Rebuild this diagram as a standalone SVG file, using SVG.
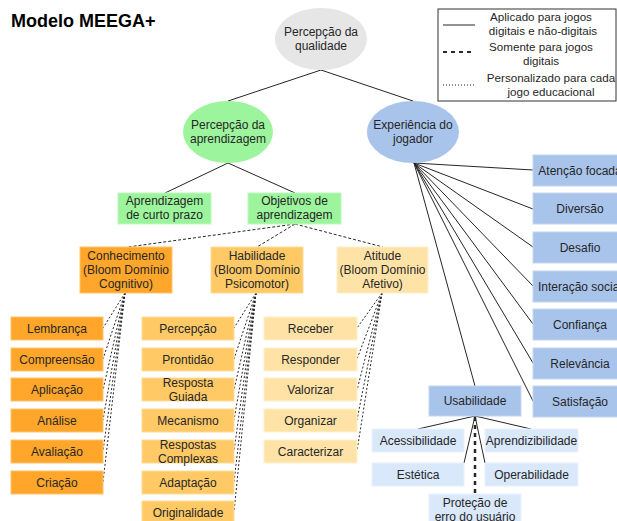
<svg xmlns="http://www.w3.org/2000/svg" width="617" height="521" viewBox="0 0 617 521">
<style>
text{font-family:"Liberation Sans",Arial,sans-serif;font-size:12px;fill:#262626;text-anchor:middle}
.title{font-size:18px;font-weight:bold;text-anchor:start;fill:#000}
.lg{font-size:11.6px}
.solid{stroke:#262626;stroke-width:1;fill:none}
.dot{stroke:#262626;stroke-width:1;fill:none;stroke-dasharray:2 2}
.dash{stroke:#262626;stroke-width:2.5;fill:none;stroke-dasharray:4 4}
.g{fill:#9cf59c;stroke:#bdf8bd}
.o1{fill:#ffa62b;stroke:#ffc46b}
.o2{fill:#ffc966;stroke:#ffdb99}
.o3{fill:#ffe3a6;stroke:#fff0cc}
.b{fill:#a9c4eb;stroke:#c3d6f2}
.lb{fill:#dae8fc;stroke:#eaf2fd}
</style>
<text class="title" x="11" y="27">Modelo MEEGA+</text>

<g id="legend">
<rect x="438" y="9" width="178" height="92" fill="#fff" stroke="#333" stroke-width="1"/>
<line x1="443" y1="25" x2="475" y2="25" class="solid"/>
<line x1="443" y1="52" x2="475" y2="52" stroke="#262626" stroke-width="2" stroke-dasharray="4 4"/>
<line x1="443" y1="85" x2="475" y2="85" stroke="#262626" stroke-width="1" stroke-dasharray="1 2"/>
<text class="lg" x="541" y="21">Aplicado para jogos</text>
<text class="lg" x="543" y="35">digitais e não-digitais</text>
<text class="lg" x="541" y="51">Somente para jogos</text>
<text class="lg" x="541" y="65">digitais</text>
<text class="lg" x="551" y="82">Personalizado para cada</text>
<text class="lg" x="551" y="96">jogo educacional</text>
</g>

<g id="connectors">
<line x1="321" y1="70" x2="228" y2="101" class="solid"/>
<line x1="321" y1="70" x2="413" y2="101" class="solid"/>
<line x1="228" y1="163" x2="165" y2="193" class="solid"/>
<line x1="228" y1="163" x2="295" y2="193" class="solid"/>
<line x1="295" y1="224" x2="128" y2="247" stroke="#262626" stroke-dasharray="3 2"/>
<line x1="295" y1="224" x2="257" y2="247" stroke="#262626" stroke-dasharray="3 2"/>
<line x1="295" y1="224" x2="383" y2="247" stroke="#262626" stroke-dasharray="3 2"/>
<g class="dot">
<path d="M125 293L103 328M125 293L103 359M125 293L103 390M125 293L103 420M125 293L103 451M125 293L103 482"/>
<path d="M256 293L234 328M256 293L234 359M256 293L234 390M256 293L234 420M256 293L234 451M256 293L234 482M256 293L234 512"/>
<path d="M382 293L357 328M382 293L357 359M382 293L357 390M382 293L357 420M382 293L357 451"/>
</g>
<g class="solid">
<path d="M414 163L533 170M414 163L533 209M414 163L533 247M414 163L533 286M414 163L533 324M414 163L533 363M414 163L533 401M414 163L475 386"/>
<path d="M475 416L418 429M475 416L531 429M475 416L464 463M475 416L485 463"/>
</g>
<line x1="475" y1="417" x2="475" y2="494" class="dash"/>
</g>

<g id="n-qualidade"><ellipse cx="321" cy="39" rx="46" ry="31" fill="#e6e6e6"/><text x="321" y="36">Percepção da</text><text x="321" y="50">qualidade</text></g>
<g id="n-aprend"><ellipse cx="228" cy="132" rx="45" ry="31" fill="#9cf59c"/><text x="228" y="129">Percepção da</text><text x="228" y="143">aprendizagem</text></g>
<g id="n-exp"><ellipse cx="413" cy="132" rx="46" ry="31" fill="#a9c4eb"/><text x="413" y="129">Experiência do</text><text x="413" y="143">jogador</text></g>

<g id="n-curto"><rect class="g" x="118" y="193" width="93" height="31"/><text x="164.5" y="205">Aprendizagem</text><text x="164.5" y="219">de curto prazo</text></g>
<g id="n-objetivos"><rect class="g" x="248" y="193" width="93" height="31"/><text x="294.5" y="205">Objetivos de</text><text x="294.5" y="219">aprendizagem</text></g>

<g id="n-conhecimento"><rect class="o1" x="80" y="247" width="92" height="46"/><text x="126" y="260">Conhecimento</text><text x="126" y="274">(Bloom Domínio</text><text x="126" y="288">Cognitivo)</text></g>
<g id="n-habilidade"><rect class="o2" x="211" y="247" width="92" height="46"/><text x="257" y="260">Habilidade</text><text x="257" y="274">(Bloom Domínio</text><text x="257" y="288">Psicomotor)</text></g>
<g id="n-atitude"><rect class="o3" x="337" y="247" width="91" height="46"/><text x="382.5" y="260">Atitude</text><text x="382.5" y="274">(Bloom Domínio</text><text x="382.5" y="288">Afetivo)</text></g>

<g id="n-lembranca"><rect class="o1" x="11" y="317" width="92" height="23"/><text x="57" y="333">Lembrança</text></g>
<g id="n-compreensao"><rect class="o1" x="11" y="348" width="92" height="23"/><text x="57" y="364">Compreensão</text></g>
<g id="n-aplicacao"><rect class="o1" x="11" y="378" width="92" height="23"/><text x="57" y="394">Aplicação</text></g>
<g id="n-analise"><rect class="o1" x="11" y="409" width="92" height="23"/><text x="57" y="425">Análise</text></g>
<g id="n-avaliacao"><rect class="o1" x="11" y="440" width="92" height="23"/><text x="57" y="456">Avaliação</text></g>
<g id="n-criacao"><rect class="o1" x="11" y="471" width="92" height="23"/><text x="57" y="487">Criação</text></g>

<g id="n-percepcao"><rect class="o2" x="142" y="317" width="92" height="23"/><text x="188" y="333">Percepção</text></g>
<g id="n-prontidao"><rect class="o2" x="142" y="348" width="92" height="23"/><text x="188" y="364">Prontidão</text></g>
<g id="n-guiada"><rect class="o2" x="142" y="378" width="92" height="23"/><text x="188" y="387">Resposta</text><text x="188" y="401">Guiada</text></g>
<g id="n-mecanismo"><rect class="o2" x="142" y="409" width="92" height="23"/><text x="188" y="425">Mecanismo</text></g>
<g id="n-complexas"><rect class="o2" x="142" y="440" width="92" height="23"/><text x="188" y="449">Respostas</text><text x="188" y="463">Complexas</text></g>
<g id="n-adaptacao"><rect class="o2" x="142" y="471" width="92" height="23"/><text x="188" y="487">Adaptação</text></g>
<g id="n-originalidade"><rect class="o2" x="142" y="501" width="92" height="23"/><text x="188" y="517">Originalidade</text></g>

<g id="n-receber"><rect class="o3" x="264" y="317" width="93" height="23"/><text x="310.5" y="333">Receber</text></g>
<g id="n-responder"><rect class="o3" x="264" y="348" width="93" height="23"/><text x="310.5" y="364">Responder</text></g>
<g id="n-valorizar"><rect class="o3" x="264" y="378" width="93" height="23"/><text x="310.5" y="394">Valorizar</text></g>
<g id="n-organizar"><rect class="o3" x="264" y="409" width="93" height="23"/><text x="310.5" y="425">Organizar</text></g>
<g id="n-caracterizar"><rect class="o3" x="264" y="440" width="93" height="23"/><text x="310.5" y="456">Caracterizar</text></g>

<g id="n-atencao"><rect class="b" x="533" y="155" width="94" height="31"/><text x="580" y="175">Atenção focada</text></g>
<g id="n-diversao"><rect class="b" x="533" y="193" width="94" height="31"/><text x="580" y="213">Diversão</text></g>
<g id="n-desafio"><rect class="b" x="533" y="232" width="94" height="31"/><text x="580" y="252">Desafio</text></g>
<g id="n-interacao"><rect class="b" x="533" y="271" width="94" height="31"/><text x="580" y="291">Interação social</text></g>
<g id="n-confianca"><rect class="b" x="533" y="309" width="94" height="31"/><text x="580" y="329">Confiança</text></g>
<g id="n-relevancia"><rect class="b" x="533" y="348" width="94" height="31"/><text x="580" y="368">Relevância</text></g>
<g id="n-satisfacao"><rect class="b" x="533" y="386" width="94" height="31"/><text x="580" y="406">Satisfação</text></g>

<g id="n-usabilidade"><rect class="b" x="429" y="386" width="92" height="30"/><text x="475" y="405">Usabilidade</text></g>
<g id="n-acessibilidade"><rect class="lb" x="372" y="429" width="92" height="23"/><text x="418" y="445">Acessibilidade</text></g>
<g id="n-aprendizibilidade"><rect class="lb" x="485" y="429" width="93" height="23"/><text x="531.5" y="445">Aprendizibilidade</text></g>
<g id="n-estetica"><rect class="lb" x="372" y="463" width="92" height="23"/><text x="418" y="479">Estética</text></g>
<g id="n-operabilidade"><rect class="lb" x="485" y="463" width="93" height="23"/><text x="531.5" y="479">Operabilidade</text></g>
<g id="n-protecao"><rect class="lb" x="429" y="494" width="92" height="31"/><text x="475" y="507">Proteção de</text><text x="475" y="521">erro do usuário</text></g>
</svg>
